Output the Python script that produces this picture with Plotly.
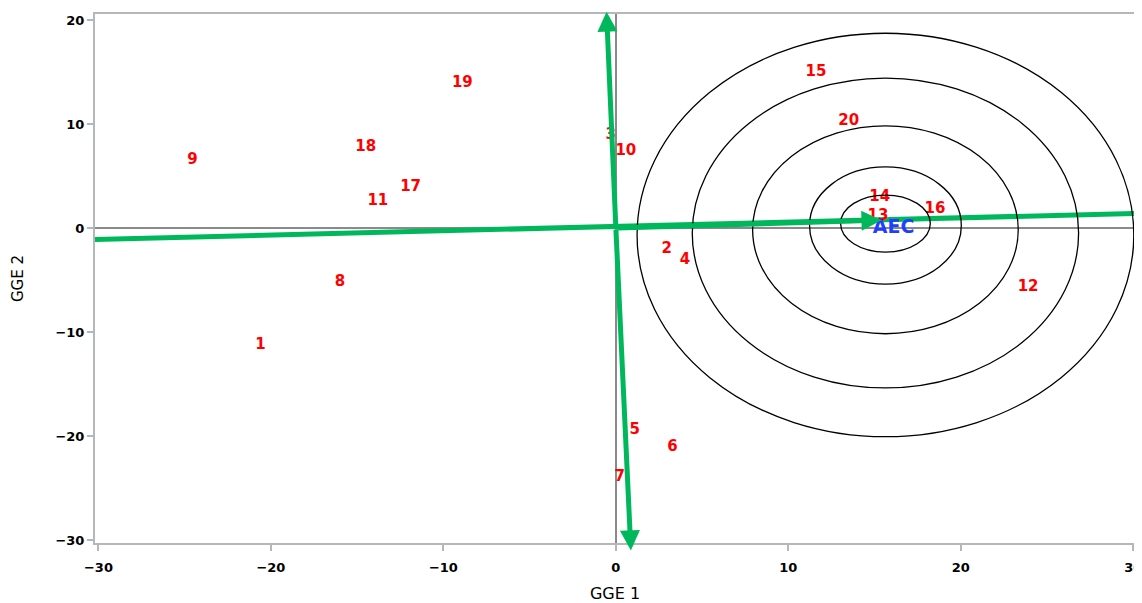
import plotly.graph_objects as go

# ---- data ----
gen_labels = ["1", "2", "3", "4", "5", "6", "7", "8", "9", "10",
              "11", "12", "13", "14", "15", "16", "17", "18", "19", "20"]
gen_x = [-20.6, 2.95, -0.3, 4.0, 1.1, 3.28, 0.23, -16.0, -24.55, 0.58,
         -13.8, 23.9, 15.2, 15.3, 11.6, 18.5, -11.9, -14.5, -8.9, 13.5]
gen_y = [-11.3, -2.0, 8.9, -3.1, -19.4, -21.1, -24.0, -5.2, 6.5, 7.4,
         2.6, -5.7, 1.1, 3.0, 15.0, 1.8, 3.9, 7.8, 13.9, 10.3]

aec_label = "AEC"
aec_label_xy = (16.1, 0.0)

# AEC abscissa (through origin) and ordinate
abscissa_x = [-30.2, 30.1]
abscissa_y = [-1.1, 1.4]
aec_tip = (15.4, 0.75)
ordinate_top = (-0.54, 20.8)
ordinate_bottom = (0.87, -31.0)
origin = (0.0, 0.0)

# concentric rings around the ideal point
ring_cx = 15.63
ring_cy = [0.43, 0.24, -0.17, -0.48, -0.67]
ring_rx = [2.6, 4.4, 7.7, 11.2, 14.4]
ring_ry = [2.74, 5.63, 10.0, 14.9, 19.4]

x_ticks = [-30, -20, -10, 0, 10, 20, 30]
y_ticks = [-30, -20, -10, 0, 10, 20]

GREEN = "#00b85c"
FONT = "DejaVu Sans, Liberation Sans, sans-serif"

fig = go.Figure()

# rings
for cy, rx, ry in zip(ring_cy, ring_rx, ring_ry):
    fig.add_shape(type="circle", xref="x", yref="y",
                  x0=ring_cx - rx, x1=ring_cx + rx, y0=cy - ry, y1=cy + ry,
                  line=dict(color="black", width=1.3), layer="above")

# abscissa line
fig.add_trace(go.Scatter(x=abscissa_x, y=abscissa_y, mode="lines",
                         line=dict(color=GREEN, width=5), hoverinfo="skip",
                         showlegend=False))

# genotype labels
fig.add_trace(go.Scatter(x=gen_x, y=gen_y, mode="text", text=gen_labels,
                         textposition="middle center",
                         textfont=dict(family=FONT, size=15, color="#ff0000",
                                       weight="bold"),
                         showlegend=False, hoverinfo="skip"))

# AEC label
fig.add_trace(go.Scatter(x=[aec_label_xy[0]], y=[aec_label_xy[1]], mode="text",
                         text=[aec_label],
                         textposition="middle center",
                         textfont=dict(family=FONT, size=19, color="#1f3fff",
                                       weight="bold"),
                         showlegend=False, hoverinfo="skip"))

# arrows
for tip in [aec_tip, ordinate_top, ordinate_bottom]:
    fig.add_annotation(x=tip[0], y=tip[1], ax=origin[0], ay=origin[1],
                       xref="x", yref="y", axref="x", ayref="y",
                       text="", showarrow=True, arrowhead=2, arrowsize=0.8,
                       arrowwidth=5, arrowcolor=GREEN, standoff=0)

axis_common = dict(
    showgrid=False, zeroline=True, zerolinecolor="#8a8a8a", zerolinewidth=2,
    showline=True, mirror=True, linecolor="#b4b8bc", linewidth=2,
    ticks="outside", ticklen=6, tickwidth=1.5, tickcolor="#b4b8bc",
    tickfont=dict(family=FONT, size=13, color="black", weight="bold"),
    ticklabeloverflow="allow",
    automargin=False,
)

# the page body adds an 8px offset, so the figure is 8px smaller each way
fig.update_layout(
    width=1134, height=595,
    margin=dict(l=87, r=7, t=6, b=60),
    paper_bgcolor="white", plot_bgcolor="white",
    xaxis=dict(range=[-30.2, 30.1], tickvals=x_ticks, ticklabelstandoff=5,
               title=dict(text="GGE 1", font=dict(family=FONT, size=16, color="black"),
                          standoff=18),
               **axis_common),
    yaxis=dict(range=[-30.29, 20.58], tickvals=y_ticks,
               title=dict(text="GGE 2", font=dict(family=FONT, size=15, color="black"),
                          standoff=28),
               **axis_common),
)

fig.write_html("out.html")
